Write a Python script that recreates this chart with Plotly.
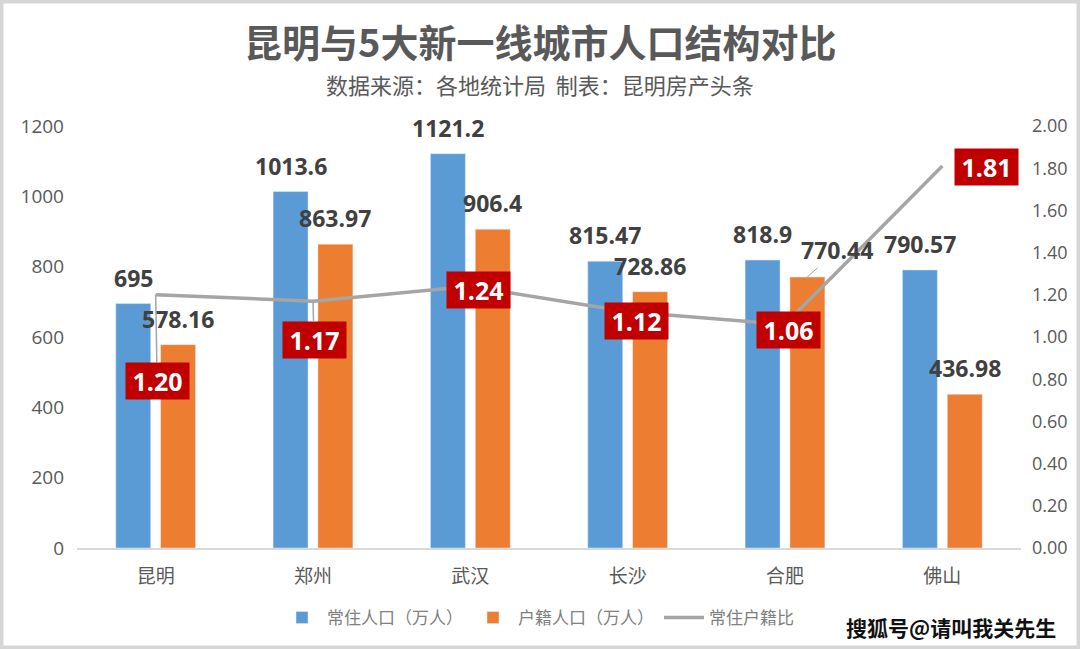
import plotly.graph_objects as go

cities = ["昆明", "郑州", "武汉", "长沙", "合肥", "佛山"]
resident = [695, 1013.6, 1121.2, 815.47, 818.9, 790.57]
registered = [578.16, 863.97, 906.4, 728.86, 770.44, 436.98]
ratio = [1.20, 1.17, 1.24, 1.12, 1.06, 1.81]
left_ticks = [0, 200, 400, 600, 800, 1000, 1200]
right_ticks = [0, 0.2, 0.4, 0.6, 0.8, 1.0, 1.2, 1.4, 1.6, 1.8, 2.0]

BLUE = "#5B9BD5"
ORANGE = "#ED7D31"
GRAY = "#A5A5A5"
RED = "#C00000"
TXT = "#404040"
AX = "#595959"
FONT = "Open Sans, Noto Sans CJK SC, sans-serif"
CJK = "Noto Sans CJK SC, sans-serif"

W, H = 1080, 649
ML, MR, MT, MB = 77, 59, 126, 101
PW, PH = W - ML - MR, H - MT - MB


def px(x):
    return (x - ML) / PW


def py(y):
    return (H - MB - y) / PH


fig = go.Figure()
fig.add_trace(go.Bar(x=cities, y=resident, name="常住人口（万人）", marker_color=BLUE))
fig.add_trace(go.Bar(x=cities, y=registered, name="户籍人口（万人）", marker_color=ORANGE))
fig.add_trace(go.Scatter(x=cities, y=ratio, name="常住户籍比", mode="lines",
                         line=dict(color=GRAY, width=3.5), yaxis="y2"))

ann = []
OFF = 22.25
LBL = dict(family=FONT, size=23, color=TXT, weight="bold")
for c, v in zip(cities, resident):
    ann.append(dict(x=c, y=v, xshift=-OFF, yshift=26, text=f"{v:g}", showarrow=False,
                    xanchor="center", yanchor="middle", font=LBL))
for c, v in zip(cities, registered):
    if c == "合肥":
        ann.append(dict(x=c, y=v, xshift=OFF, text=f"{v:g}", showarrow=True, ax=30, ay=-27,
                        arrowhead=0, arrowwidth=1, arrowcolor=GRAY, font=LBL))
    else:
        ann.append(dict(x=c, y=v, xshift=OFF, yshift=26, text=f"{v:g}", showarrow=False,
                        xanchor="center", yanchor="middle", font=LBL))

# ratio label placement (pixel offsets of box centre from the point)
offsets = {"昆明": (1.5, 86, True), "郑州": (1, 39, True), "武汉": (8.5, 3.5, False),
           "长沙": (8.5, 9, False), "合肥": (3.5, 6, False), "佛山": (44.5, 1, False)}
for c, v in zip(cities, ratio):
    dx, dy, arrow = offsets[c]
    base = dict(x=c, y=v, yref="y2", text=f"{v:.2f}", bgcolor=RED, width=63, height=36,
                borderpad=0, font=dict(family=FONT, size=25, color="white", weight="bold"))
    if arrow:
        base.update(showarrow=True, ax=dx, ay=dy, arrowhead=0, arrowwidth=1.5, arrowcolor=GRAY)
    else:
        base.update(showarrow=False, xshift=dx, yshift=-dy, xanchor="center", yanchor="middle")
    ann.append(base)

PAPER = dict(xref="paper", yref="paper", showarrow=False, xanchor="center", yanchor="middle",
             valign="middle")
ann.append(dict(PAPER, x=px(540), y=py(40), text="昆明与5大新一线城市人口结构对比",
                font=dict(family=CJK, size=38, color="#595959", weight="bold")))
ann.append(dict(PAPER, x=px(540), y=py(84),
                text="数据来源：各地统计局&nbsp;&nbsp;制表：昆明房产头条",
                font=dict(family=CJK, size=22, color="#595959")))
ann.append(dict(PAPER, x=px(951), y=py(627), text="搜狐号@请叫我关先生",
                font=dict(family=CJK, size=21, color="#111111", weight="bold")))

fig.update_layout(
    width=W, height=H,
    margin=dict(l=ML, r=MR, t=MT, b=MB),
    paper_bgcolor="white", plot_bgcolor="white",
    barmode="group", bargap=0.43, bargroupgap=0.22,
    font=dict(family=FONT, color=AX),
    showlegend=True,
    legend=dict(orientation="h", x=px(538), y=py(618), xanchor="center", yanchor="middle",
                font=dict(family=CJK, size=17, color="#808080"), itemwidth=40,
                bgcolor="rgba(0,0,0,0)"),
    xaxis=dict(showgrid=False, showline=True, linecolor="#D9D9D9", linewidth=1.5,
               tickfont=dict(family=CJK, size=19, color=AX), ticks="", ticklabelstandoff=10),
    yaxis=dict(range=[0, 1200], tickvals=left_ticks, showgrid=False, zeroline=False,
               tickfont=dict(family=FONT, size=19, color=AX), ticklabelstandoff=12),
    yaxis2=dict(range=[0, 2], tickvals=right_ticks, tickformat=".2f", overlaying="y", side="right",
                showgrid=False, zeroline=False, tickfont=dict(family=FONT, size=18, color=AX),
                ticklabelstandoff=10),
    annotations=ann,
    shapes=[dict(type="rect", xref="paper", yref="paper", x0=px(1.5), x1=px(W - 1.5),
                 y0=py(H - 1.5), y1=py(1.5), line=dict(color="#D6D6D6", width=4),
                 layer="below")],
)

fig.write_html("out.html", config={"displayModeBar": False},
               post_script="document.body.style.margin='0';document.body.style.overflow='hidden';")
